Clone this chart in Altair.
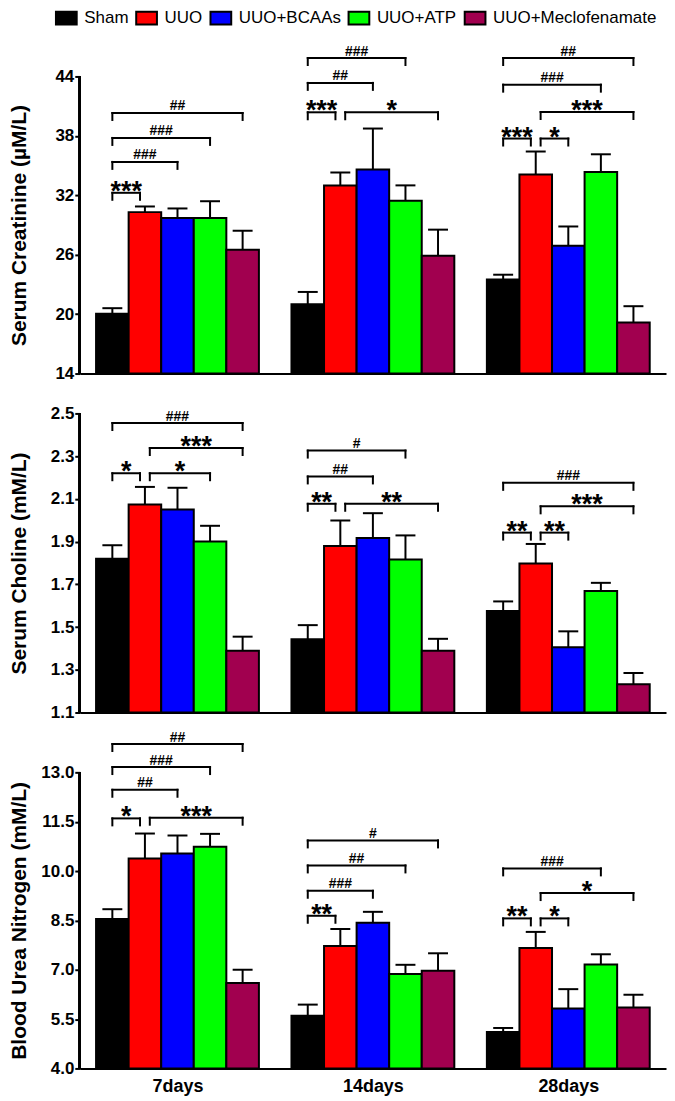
import altair as alt
import pandas as pd
import json

groups = ["7days", "14days", "28days"]
treatments = ["Sham", "UUO", "UUO+BCAAs", "UUO+ATP", "UUO+Meclofenamate"]
colors = ["#000000", "#FF0000", "#0000FF", "#00FF00", "#A1004F"]

# Serum creatinine (uM/L): mean and SEM per group/treatment
creat_mean = [[20.05, 30.3, 29.7, 29.7, 26.5],
              [21.0, 33.0, 34.6, 31.45, 25.9],
              [23.5, 34.1, 26.9, 34.35, 19.15]]
creat_err = [[0.55, 0.57, 0.97, 1.7, 1.92],
             [1.24, 1.31, 4.14, 1.55, 2.63],
             [0.48, 2.32, 1.95, 1.79, 1.65]]
# Serum choline (mM/L)
chol_mean = [[1.82, 2.074, 2.05, 1.90, 1.389],
             [1.443, 1.879, 1.917, 1.816, 1.389],
             [1.575, 1.797, 1.405, 1.669, 1.232]]
chol_err = [[0.063, 0.082, 0.102, 0.074, 0.066],
            [0.066, 0.12, 0.116, 0.113, 0.056],
            [0.045, 0.092, 0.075, 0.038, 0.053]]
# Blood urea nitrogen (mM/L)
bun_mean = [[8.54, 10.38, 10.53, 10.74, 6.60],
            [5.6, 7.72, 8.43, 6.87, 6.97],
            [5.11, 7.66, 5.82, 7.16, 5.85]]
bun_err = [[0.30, 0.76, 0.55, 0.39, 0.40],
           [0.34, 0.52, 0.33, 0.28, 0.53],
           [0.12, 0.49, 0.59, 0.31, 0.39]]

# significance brackets: (group index, from treatment, to treatment, level, label)
creat_br = [(0, 0, 1, 32.25, "***"), (0, 0, 2, 35.37, "###"), (0, 0, 3, 37.79, "###"), (0, 0, 4, 40.31, "##"),
            (1, 0, 1, 40.38, "***"), (1, 1, 4, 40.38, "*"), (1, 0, 2, 43.35, "##"), (1, 0, 3, 45.86, "###"),
            (2, 0, 1, 37.73, "***"), (2, 1, 2, 37.73, "*"), (2, 1, 4, 40.41, "***"), (2, 0, 3, 43.17, "###"),
            (2, 0, 4, 45.86, "##")]
chol_br = [(0, 0, 1, 2.22, "*"), (0, 1, 3, 2.22, "*"), (0, 1, 4, 2.338, "***"), (0, 0, 4, 2.455, "###"),
           (1, 0, 1, 2.077, "**"), (1, 1, 4, 2.077, "**"), (1, 0, 2, 2.205, "##"), (1, 0, 3, 2.326, "#"),
           (2, 0, 1, 1.942, "**"), (2, 1, 2, 1.942, "**"), (2, 1, 4, 2.065, "***"), (2, 0, 4, 2.175, "###")]
bun_br = [(0, 0, 1, 11.6, "*"), (0, 1, 4, 11.62, "***"), (0, 0, 2, 12.47, "##"), (0, 0, 3, 13.16, "###"),
          (0, 0, 4, 13.86, "##"),
          (1, 0, 1, 8.64, "**"), (1, 0, 2, 9.40, "###"), (1, 0, 3, 10.17, "##"), (1, 0, 4, 10.93, "#"),
          (2, 0, 1, 8.56, "**"), (2, 1, 2, 8.56, "*"), (2, 1, 4, 9.33, "*"), (2, 0, 3, 10.08, "###")]

creat_ticks = [14, 20, 26, 32, 38, 44]
chol_ticks = [1.1, 1.3, 1.5, 1.7, 1.9, 2.1, 2.3, 2.5]
bun_ticks = [4.0, 5.5, 7.0, 8.5, 10.0, 11.5, 13.0]

FONT = "Liberation Sans"
STEP = 6          # bar slots per day group (5 bars + 1 gap)
W = 588


def panel(means, errs, brackets, ticks, fmt, title, axis_px, ext_px, show_x, legend=False):
    ymin, ymax = ticks[0], ticks[-1]
    ytop = ymax + ext_px * (ymax - ymin) / axis_px
    height = axis_px + ext_px
    rows = []
    for g, gname in enumerate(groups):
        for t, tname in enumerate(treatments):
            rows.append(dict(group=gname, gi=g, treatment=tname, ti=t,
                             mean=means[g][t], upper=means[g][t] + errs[g][t]))
    df = pd.DataFrame(rows)
    bdf = pd.DataFrame([dict(gi=b[0], a=b[1], b=b[2], level=b[3], label=b[4]) for b in brackets])

    xs = alt.Scale(domain=[0, STEP * len(groups)], nice=False, zero=False)
    ys = alt.Scale(domain=[ymin, ytop], nice=False, zero=False)

    if show_x:
        xaxis = alt.Axis(values=[STEP * g + 3 for g in range(len(groups))],
                         labelExpr=f"{json.dumps(groups)}[round((datum.value-3)/{STEP})]",
                         ticks=False, grid=False, title=None, domainColor="black", domainWidth=2,
                         labelFont=FONT, labelFontSize=18, labelFontWeight="bold", labelColor="black",
                         labelPadding=9)
    else:
        xaxis = alt.Axis(labels=False, ticks=False, grid=False, title=None,
                         domainColor="black", domainWidth=2)
    yaxis = alt.Axis(values=ticks, format=fmt, domain=False, grid=False, tickColor="black",
                     tickWidth=2, tickSize=5, labelFont=FONT, labelFontSize=17, labelFontWeight="bold",
                     labelColor="black", labelPadding=1, title=title, titleFont=FONT, titleFontSize=21,
                     titleFontWeight="bold", titleColor="black", titleAngle=270, titleX=-50,
                     titleY=ext_px + axis_px / 2, titleAlign="center", titleBaseline="bottom")

    base = alt.Chart(df).transform_calculate(pos=f"datum.gi*{STEP} + datum.ti + 1")
    leg = alt.Legend(orient="none", legendX=-22, legendY=-37, direction="horizontal", columns=5,
                     title=None, symbolType="M-1.6,-1H1.6V1H-1.6Z", symbolSize=169,
                     symbolStrokeColor="black", symbolStrokeWidth=2, symbolOpacity=1,
                     labelFont=FONT, labelFontSize=17, labelColor="black", labelOffset=9.5,
                     labelLimit=400, columnPadding=3.5, padding=0) if legend else None
    bars = base.transform_calculate(xl="datum.pos - 0.5", xr="datum.pos + 0.5").mark_bar(
        stroke="black", strokeWidth=2, opacity=1).encode(
        x=alt.X("xl:Q", scale=xs, axis=xaxis),
        x2="xr:Q",
        y=alt.Y("mean:Q", scale=ys, axis=yaxis),
        y2=alt.datum(ymin),
        color=alt.Color("treatment:N", scale=alt.Scale(domain=treatments, range=colors),
                        legend=leg))
    err = base.mark_rule(color="black", strokeWidth=2).encode(
        x="pos:Q", y="mean:Q", y2="upper:Q")
    cap = base.mark_tick(orient="horizontal", size=20, thickness=2, color="black", opacity=1).encode(
        x="pos:Q", y="upper:Q")
    yline = alt.Chart(df).mark_rule(color="black", strokeWidth=2).encode(
        x=alt.value(0), y=alt.datum(ymin), y2=alt.datum(ymax))

    bb = alt.Chart(bdf).transform_calculate(
        xl=f"datum.gi*{STEP} + datum.a + 1 + (datum.a == 1 ? 0.15 : 0)",
        xr=f"datum.gi*{STEP} + datum.b + 1 - (datum.b == 1 ? 0.15 : 0)",
        xm="(datum.xl + datum.xr) / 2")
    hline = bb.mark_rule(color="black", strokeWidth=2, strokeCap="square").encode(
        x="xl:Q", x2="xr:Q", y="level:Q")
    lt = bb.mark_rule(color="black", strokeWidth=2, strokeCap="square", y2Offset=7).encode(
        x="xl:Q", y="level:Q", y2="level:Q")
    rt = bb.mark_rule(color="black", strokeWidth=2, strokeCap="square", y2Offset=7).encode(
        x="xr:Q", y="level:Q", y2="level:Q")
    stars = bb.transform_filter("indexof(datum.label, '*') >= 0").mark_text(
        font=FONT, fontSize=27, fontWeight="bold", baseline="alphabetic", dy=7, color="black").encode(
        x="xm:Q", y="level:Q", text="label:N")
    hashes = bb.transform_filter("indexof(datum.label, '#') >= 0").mark_text(
        font=FONT, fontSize=14, fontWeight="bold", baseline="alphabetic", dy=-2.5, color="black").encode(
        x="xm:Q", y="level:Q", text="label:N")

    return alt.layer(bars, err, cap, yline, hline, lt, rt, stars, hashes).properties(
        width=W, height=height)


p1 = panel(creat_mean, creat_err, creat_br, creat_ticks, "d", "Serum Creatinine (µM/L)", 298, 30, False,
           legend=True)
p2 = panel(chol_mean, chol_err, chol_br, chol_ticks, ".1f", "Serum Choline (mM/L)", 300, 30, False)
p3 = panel(bun_mean, bun_err, bun_br, bun_ticks, ".1f", "Blood Urea Nitrogen (mM/L)", 297, 50, True)

chart = alt.vconcat(p1, p2, p3, spacing=10, bounds="flush").properties(
    padding={"left": 0, "top": 0, "right": 1, "bottom": 2}
).configure(background="white").configure_view(strokeWidth=0, stroke="transparent")

chart.save("out.html", embed_options={"renderer": "svg", "actions": False})
